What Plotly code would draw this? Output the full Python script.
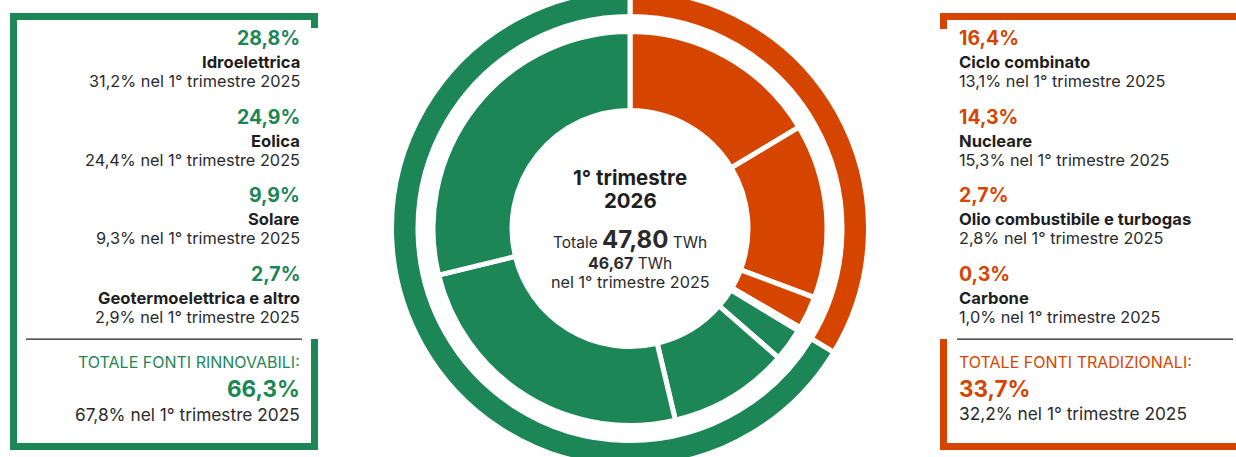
import plotly.graph_objects as go

W, H = 1236, 457
OFF = 10            # figure is shifted up by OFF px so the outer ring can bleed off the page
HF = H + 2 * OFF
GREEN = "#1d8656"
ORANGE = "#d64500"
DARK = "#1e1e1e"
TEXT = "#2a2a2a"

# ---- data ----
renew_labels = ["Idroelettrica", "Eolica", "Solare", "Geotermoelettrica e altro"]
renew_2026 = [28.8, 24.9, 9.9, 2.7]
renew_2025 = [31.2, 24.4, 9.3, 2.9]
trad_labels = ["Ciclo combinato", "Nucleare", "Olio combustibile e turbogas", "Carbone"]
trad_2026 = [16.4, 14.3, 2.7, 0.3]
trad_2025 = [13.1, 15.3, 2.8, 1.0]
total_labels = ["TOTALE FONTI RINNOVABILI:", "TOTALE FONTI TRADIZIONALI:"]
total_2026 = [66.3, 33.7]
total_2025 = [67.8, 32.2]
total_twh_2026 = 47.80
total_twh_2025 = 46.67

def it(v, d=1):
    return f"{v:.{d}f}".replace(".", ",")

# inner ring order (clockwise from 12 o'clock): traditional, then renewables reversed
inner_labels = trad_labels + renew_labels[::-1]
inner_values = trad_2026 + renew_2026[::-1]
inner_colors = [ORANGE] * len(trad_labels) + [GREEN] * len(renew_labels)
outer_labels = ["Tradizionali", "Rinnovabili"]
outer_values = [total_2026[1], total_2026[0]]
outer_colors = [ORANGE, GREEN]

fig = go.Figure()

cx, cy = 630, 228.5          # screen coordinates
R_out = 238.5
R_in = 197.0

def px(x):
    return x / W

def py(y):
    return 1 - (y + OFF) / HF

def dom(r):
    return dict(x=[max(0, px(cx - r)), min(1, px(cx + r))],
                y=[max(0, py(cy + r)), min(1, py(cy - r))])

fig.add_trace(go.Pie(
    labels=outer_labels, values=outer_values, sort=False, direction="clockwise",
    rotation=0, hole=212.0 / R_out, domain=dom(R_out),
    marker=dict(colors=outer_colors, line=dict(color="white", width=5)),
    textinfo="none", hoverinfo="skip", showlegend=False,
))
fig.add_trace(go.Pie(
    labels=inner_labels, values=inner_values, sort=False, direction="clockwise",
    rotation=0, hole=118.0 / R_in, domain=dom(R_in),
    marker=dict(colors=inner_colors, line=dict(color="white", width=5)),
    textinfo="none", hoverinfo="skip", showlegend=False,
))

shapes = []
def rect(x0, y0, x1, y1, color):
    shapes.append(dict(type="rect", xref="paper", yref="paper",
                       x0=px(x0), x1=px(x1), y0=py(y1), y1=py(y0),
                       fillcolor=color, line=dict(width=0), layer="above"))

# left frame (green)
rect(10, 13, 318, 20, GREEN)
rect(10, 13, 17, 450, GREEN)
rect(311, 13, 318, 28, GREEN)
rect(10, 443, 318, 450, GREEN)
rect(311, 339, 318, 450, GREEN)
rect(26, 338.5, 302, 339.7, DARK)
# right frame (orange)
rect(940, 13, 1236, 20, ORANGE)
rect(940, 13, 947, 29, ORANGE)
rect(940, 339, 947, 450, ORANGE)
rect(940, 443, 1236, 450, ORANGE)
rect(957, 338.5, 1233, 339.7, DARK)

ann = []
FONT = "Inter"
def txt(x, y, text, size, color, anchor):
    ann.append(dict(xref="paper", yref="paper", x=px(x), y=py(y), text=text,
                    showarrow=False, xanchor=anchor, yanchor="middle",
                    font=dict(family=FONT, size=size, color=color)))

step = 78.7
for i, (lab, v, p) in enumerate(zip(renew_labels, renew_2026, renew_2025)):
    y0 = 38 + i * step
    txt(302, y0, f"<b>{it(v)}%</b>", 19.5, GREEN, "right")
    txt(302, y0 + 24, f"<b>{lab}</b>", 16.6, DARK, "right")
    txt(302, y0 + 43, f"{it(p)}% nel 1° trimestre 2025", 16.3, TEXT, "right")
for i, (lab, v, p) in enumerate(zip(trad_labels, trad_2026, trad_2025)):
    y0 = 38 + i * step
    txt(957, y0, f"<b>{it(v)}%</b>", 19.5, ORANGE, "left")
    txt(957, y0 + 24, f"<b>{lab}</b>", 16.6, DARK, "left")
    txt(957, y0 + 43, f"{it(p)}% nel 1° trimestre 2025", 16.3, TEXT, "left")

txt(302, 362, total_labels[0], 16, GREEN, "right")
txt(302, 388, f"<b>{it(total_2026[0])}%</b>", 22.5, GREEN, "right")
txt(302, 414, f"{it(total_2025[0])}% nel 1° trimestre 2025", 17.3, TEXT, "right")
txt(957, 362, total_labels[1], 16, ORANGE, "left")
txt(957, 388, f"<b>{it(total_2026[1])}%</b>", 22.5, ORANGE, "left")
txt(957, 413, f"{it(total_2025[1])}% nel 1° trimestre 2025", 17.3, TEXT, "left")

# centre
txt(cx, 177, "<b>1° trimestre</b>", 20.4, DARK, "center")
txt(cx, 200, "<b>2026</b>", 20.4, DARK, "center")
txt(cx, 239, f"Totale <b><span style='font-size:24px'>{it(total_twh_2026, 2)}</span></b> TWh", 15.5, TEXT, "center")
txt(cx, 263, f"<b><span style='font-size:16px'>{it(total_twh_2025, 2)}</span></b> TWh", 15.5, TEXT, "center")
txt(cx, 282, "nel 1° trimestre 2025", 16.2, TEXT, "center")

fig.update_layout(
    width=W, height=HF, margin=dict(l=0, r=0, t=0, b=0),
    paper_bgcolor="white", plot_bgcolor="white",
    shapes=shapes, annotations=ann, showlegend=False,
)
fig.write_html(
    "out.html",
    config={"displayModeBar": False},
    post_script=f"document.body.style.margin='-{OFF}px 0 0 0';document.body.style.overflow='hidden';",
)
